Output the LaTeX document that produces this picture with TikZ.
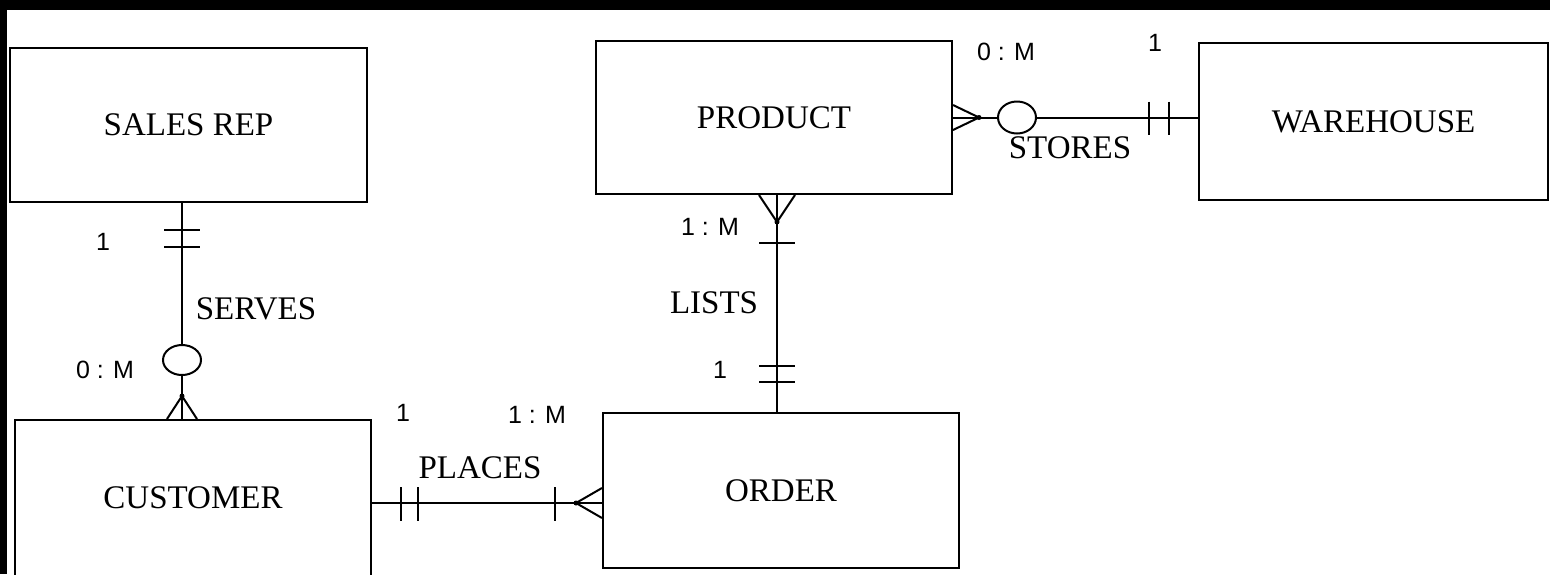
\documentclass[tikz,border=0pt]{standalone}
\usepackage{fontspec}
\setmainfont{Liberation Serif}
\newfontfamily\cardfont{Liberation Sans}
\usetikzlibrary{calc}
\begin{document}
\begin{tikzpicture}[x=1pt,y=-1pt,
  entity/.style={draw=black, line width=2pt, inner sep=0pt, font=\fontsize{33}{36}\selectfont},
  rel/.style={draw=black, line width=2pt},
  relname/.style={inner sep=0pt, font=\fontsize{33}{36}\selectfont},
  card/.style={inner sep=0pt, font=\cardfont\fontsize{25}{28}\selectfont},
  apexdot/.style={fill=black, draw=none}]
\useasboundingbox (0,0) rectangle (1550,574);
\clip (0,0) rectangle (1550,574);
\fill[white] (0,0) rectangle (1550,574);
\fill[black] (0,0) rectangle (1550,10);
\fill[black] (0,0) rectangle (7,574);

% entities
\node[entity, minimum width=357pt, minimum height=154pt] (sales) at (188.5,125) {SALES REP};
\node[entity, minimum width=356pt, minimum height=153pt] (prod) at (774,117.5) {PRODUCT};
\node[entity, minimum width=349pt, minimum height=157pt] (wh) at (1373.5,121.5) {WAREHOUSE};
\node[entity, minimum width=356pt, minimum height=156pt] (cust) at (193,498) {CUSTOMER};
\node[entity, minimum width=356pt, minimum height=155pt] (ord) at (781,490.5) {ORDER};

% SERVES: sales (1) -- customer (0:M)
\draw[rel] ([xshift=-6.5pt]sales.south) coordinate (sv1) -- (cust.north -| sv1) coordinate (sv2);
\draw[rel] ($(sv1)+(-18,27)$) -- ++(36,0);
\draw[rel] ($(sv1)+(-18,44)$) -- ++(36,0);
\draw[rel, fill=white] ($(sv1)+(0,157)$) ellipse [x radius=19pt, y radius=15pt];
\draw[rel] ($(sv2)+(-15,0)$) -- ($(sv2)+(0,-23)$) -- ($(sv2)+(15,0)$);
\fill[apexdot] ($(sv2)+(0,-23)$) circle [radius=2.5pt];

% LISTS: product (1:M) -- order (1)
\draw[rel] ([xshift=3pt]prod.south) coordinate (ls1) -- (ord.north -| ls1) coordinate (ls2);
\draw[rel] ($(ls1)+(-18,0)$) -- ($(ls1)+(0,27)$) -- ($(ls1)+(18,0)$);
\fill[apexdot] ($(ls1)+(0,27)$) circle [radius=2.5pt];
\draw[rel] ($(ls1)+(-18,48)$) -- ++(36,0);
\draw[rel] ($(ls2)+(-18,-46)$) -- ++(36,0);
\draw[rel] ($(ls2)+(-18,-30)$) -- ++(36,0);

% STORES: product (0:M) -- warehouse (1)
\draw[rel] (prod.east) coordinate (st1) -- (wh.west |- st1) coordinate (st2);
\draw[rel] ($(st1)+(0,-12.5)$) -- ($(st1)+(26,0)$) -- ($(st1)+(0,12.5)$);
\fill[apexdot] ($(st1)+(26,0)$) circle [radius=2.5pt];
\draw[rel, fill=white] ($(st1)+(64,0)$) ellipse [x radius=19pt, y radius=16pt];
\draw[rel] ($(st2)+(-49,-16)$) -- ++(0,33);
\draw[rel] ($(st2)+(-29,-16)$) -- ++(0,33);

% PLACES: customer (1) -- order (1:M)
\draw[rel] ([yshift=-5pt]cust.east) coordinate (pl1) -- (ord.west |- pl1) coordinate (pl2);
\draw[rel] ($(pl1)+(29,-16)$) -- ++(0,34);
\draw[rel] ($(pl1)+(46,-16)$) -- ++(0,34);
\draw[rel] ($(pl2)+(-47,-16)$) -- ++(0,34);
\draw[rel] ($(pl2)+(0,-15)$) -- ($(pl2)+(-26,0)$) -- ($(pl2)+(0,15)$);
\fill[apexdot] ($(pl2)+(-26,0)$) circle [radius=2.5pt];

% relationship names
\node[relname] (serves) at (256,309) {SERVES};
\node[relname] (lists) at (714,303) {LISTS};
\node[relname] (stores) at (1070,148) {STORES};
\node[relname] (places) at (480,468) {PLACES};

% cardinalities
\node[card] (c1) at (103,242) {1};
\node[card] (c2) at (105,370) {0 : M};
\node[card] (c3) at (710,227) {1 : M};
\node[card] (c4) at (720,370) {1};
\node[card] (c5) at (1006,52) {0 : M};
\node[card] (c6) at (1155,43) {1};
\node[card] (c7) at (403,413) {1};
\node[card] (c8) at (537,415) {1 : M};
\end{tikzpicture}
\end{document}
